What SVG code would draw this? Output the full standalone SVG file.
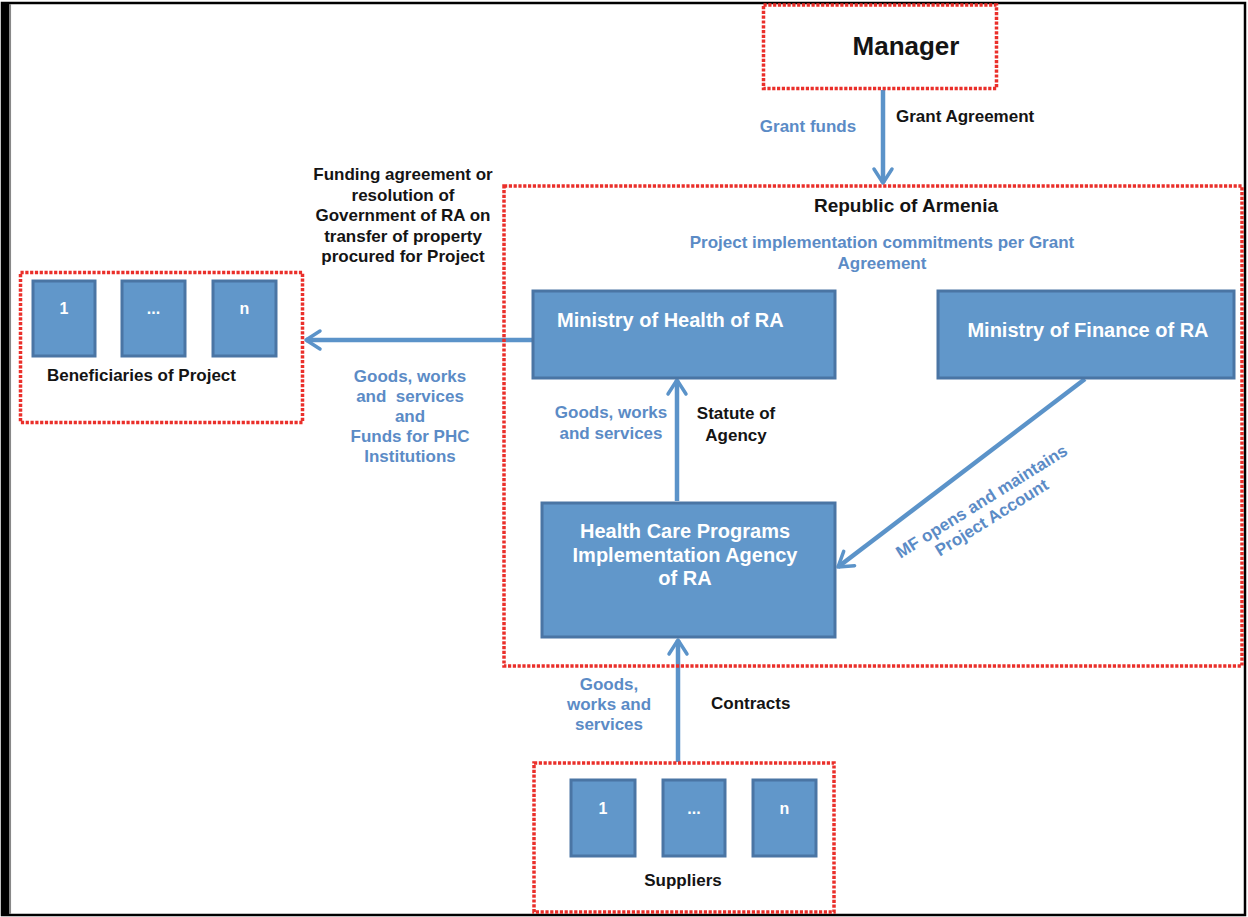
<svg xmlns="http://www.w3.org/2000/svg" width="1248" height="917" viewBox="0 0 1248 917">
<defs>
<style>
.t{font-family:"Liberation Sans",Arial,sans-serif;font-weight:bold;font-size:17px}
.bk{fill:#141414}
.bl{fill:#5b8bc6}
.wt{fill:#ffffff;font-size:20px}
.sm{fill:#ffffff;font-size:16px}
.grp{fill:none;stroke:#ea2f2a;stroke-width:3.5;stroke-dasharray:3.2 1.6}
.box{fill:#6197ca;stroke:#4a75a4;stroke-width:3}
.con{fill:none;stroke:#5b93c9;stroke-width:4.5;marker-end:url(#ah)}
</style>
<marker id="ah" markerUnits="userSpaceOnUse" viewBox="-18 -12 22 24" refX="0" refY="0" markerWidth="22" markerHeight="24" orient="auto" overflow="visible">
<path d="M -14 -9 L 0 0 L -14 9" fill="none" stroke="#5b93c9" stroke-width="3.5" stroke-linecap="round" stroke-linejoin="round"/>
</marker>
</defs>
<rect x="0" y="0" width="1248" height="917" fill="#ffffff"/>
<g id="frame">
<rect x="2" y="3" width="1243" height="912" fill="none" stroke="#000" stroke-width="2.5"/>
<rect x="2" y="3" width="7.5" height="912" fill="#000"/>
<line x1="10.3" y1="4" x2="10.3" y2="914" stroke="#888" stroke-width="1.5"/>
</g>
<g id="connectors">
<line class="con" x1="883" y1="90" x2="883" y2="183"/>
<line class="con" x1="533" y1="340" x2="306" y2="340"/>
<line class="con" x1="677" y1="501" x2="677" y2="380"/>
<line class="con" x1="678" y1="762" x2="678" y2="640"/>
<line class="con" x1="1085" y1="379" x2="838" y2="567"/>
</g>
<g id="manager">
<rect class="grp" x="763.5" y="5" width="233" height="83.5"/>
<text class="t bk" x="906" y="55" text-anchor="middle" style="font-size:26px">Manager</text>
</g>
<g id="republic">
<rect class="grp" x="504" y="186" width="738" height="480"/>
<text class="t bk" x="906" y="212" text-anchor="middle" style="font-size:19px">Republic of Armenia</text>
<text class="t bl" x="882" y="248" text-anchor="middle">Project implementation commitments per Grant</text>
<text class="t bl" x="882" y="269" text-anchor="middle">Agreement</text>
</g>
<g id="moh">
<rect class="box" x="533" y="291" width="302" height="87"/>
<text class="t wt" x="557" y="327">Ministry of Health of RA</text>
</g>
<g id="mof">
<rect class="box" x="938" y="291" width="296" height="87"/>
<text class="t wt" x="1088" y="337" text-anchor="middle">Ministry of Finance of RA</text>
</g>
<g id="agency">
<rect class="box" x="542" y="503" width="293" height="134"/>
<text class="t wt" text-anchor="middle"><tspan x="685" y="538">Health Care Programs</tspan><tspan x="685" y="562">Implementation Agency</tspan><tspan x="685" y="585">of RA</tspan></text>
</g>
<g id="beneficiaries">
<rect class="grp" x="20.5" y="272.5" width="282" height="150"/>
<rect class="box" x="33" y="281" width="62" height="75"/>
<rect class="box" x="122" y="281" width="63" height="75"/>
<rect class="box" x="213" y="281" width="63" height="75"/>
<text class="t sm" x="64" y="314" text-anchor="middle">1</text>
<text class="t sm" x="153.5" y="314" text-anchor="middle">...</text>
<text class="t sm" x="244.5" y="314" text-anchor="middle">n</text>
<text class="t bk" x="47" y="381">Beneficiaries of Project</text>
</g>
<g id="suppliers">
<rect class="grp" x="534" y="763" width="300" height="149"/>
<rect class="box" x="571" y="780" width="64" height="76"/>
<rect class="box" x="663" y="780" width="62" height="76"/>
<rect class="box" x="753" y="780" width="63" height="76"/>
<text class="t sm" x="603" y="814" text-anchor="middle">1</text>
<text class="t sm" x="694" y="814" text-anchor="middle">...</text>
<text class="t sm" x="784.5" y="814" text-anchor="middle">n</text>
<text class="t bk" x="683" y="886" text-anchor="middle">Suppliers</text>
</g>
<g id="labels">
<text class="t bl" x="808" y="132" text-anchor="middle">Grant funds</text>
<text class="t bk" x="896" y="122">Grant Agreement</text>
<text class="t bk" text-anchor="middle"><tspan x="403" y="180">Funding agreement or</tspan><tspan x="403" y="200.5">resolution of</tspan><tspan x="403" y="221">Government of RA on</tspan><tspan x="403" y="241.5">transfer of property</tspan><tspan x="403" y="262">procured for Project</tspan></text>
<text class="t bl" text-anchor="middle" xml:space="preserve"><tspan x="410" y="382">Goods, works</tspan><tspan x="410" y="402">and  services</tspan><tspan x="410" y="422">and</tspan><tspan x="410" y="442">Funds for PHC</tspan><tspan x="410" y="462">Institutions</tspan></text>
<text class="t bl" text-anchor="middle"><tspan x="611" y="418">Goods, works</tspan><tspan x="611" y="439">and services</tspan></text>
<text class="t bk" text-anchor="middle"><tspan x="736" y="419">Statute of</tspan><tspan x="736" y="441">Agency</tspan></text>
<text class="t bl" text-anchor="middle"><tspan x="609" y="690">Goods,</tspan><tspan x="609" y="710">works and</tspan><tspan x="609" y="730">services</tspan></text>
<text class="t bk" x="711" y="709">Contracts</text>
<text class="t bl" text-anchor="middle" transform="translate(982,502) rotate(-32)"><tspan x="0" y="5">MF opens and maintains</tspan><tspan x="0" y="24">Project Account</tspan></text>
</g>
</svg>
